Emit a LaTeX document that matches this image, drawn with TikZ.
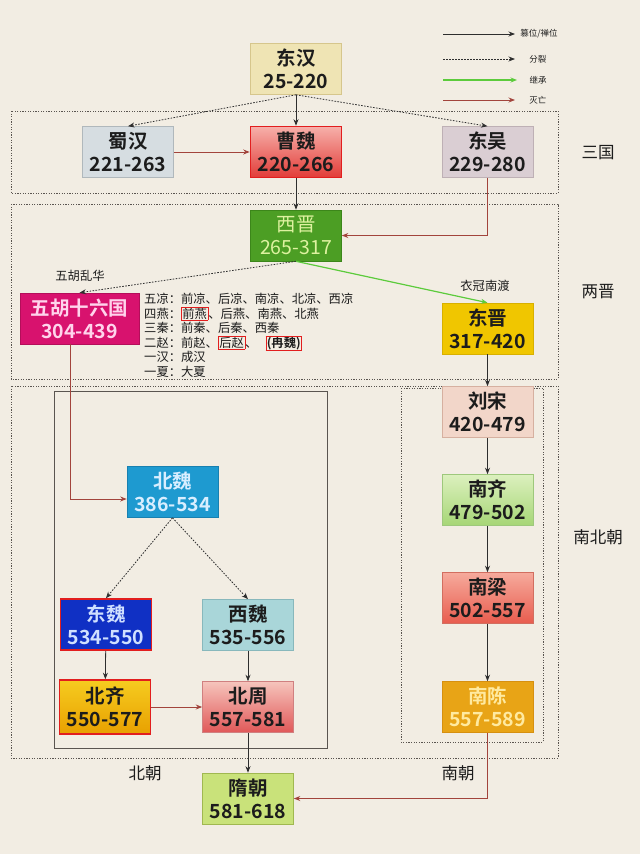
\documentclass[tikz,border=0pt]{standalone}
\usepackage{fontspec}
\setmainfont{Noto Sans CJK SC}[BoldFont={Noto Sans CJK SC Bold}]
\usetikzlibrary{arrows.meta,positioning}

\definecolor{paper}{HTML}{F2EDE3}
\definecolor{ink}{HTML}{1C1C1C}
\definecolor{frameGray}{HTML}{5A5550}
\definecolor{arrowDark}{HTML}{2E2E2E}
\definecolor{arrowGreen}{HTML}{5CCB3C}
\definecolor{arrowRed}{HTML}{A2443C}
\definecolor{boxRed}{HTML}{E21E1E}
% dynasty colours
\definecolor{donghanFill}{HTML}{EFE4B4}  \definecolor{donghanLine}{HTML}{D6C68C}
\definecolor{shuhanFill}{HTML}{D6DDE1}   \definecolor{shuhanLine}{HTML}{B0B8BC}
\definecolor{caoweiTop}{HTML}{F6B0AA}    \definecolor{caoweiBot}{HTML}{E23C38}
\definecolor{dongwuFill}{HTML}{DACED3}   \definecolor{dongwuLine}{HTML}{BEB0B5}
\definecolor{xijinFill}{HTML}{4C9E24}    \definecolor{xijinLine}{HTML}{3C861A}  \definecolor{xijinText}{HTML}{DEF2A0}
\definecolor{wuhuFill}{HTML}{D8126E}     \definecolor{wuhuLine}{HTML}{B40E5A}   \definecolor{wuhuText}{HTML}{FFD4EC}
\definecolor{dongjinFill}{HTML}{F0C600}  \definecolor{dongjinLine}{HTML}{D8B000}
\definecolor{liusongFill}{HTML}{F2D6C9}  \definecolor{liusongLine}{HTML}{D6B0A0}
\definecolor{nanqiTop}{HTML}{DCF0BE}     \definecolor{nanqiBot}{HTML}{A6D676}   \definecolor{nanqiLine}{HTML}{9EC87C}
\definecolor{nanliangTop}{HTML}{F6AA9C}  \definecolor{nanliangBot}{HTML}{E85C4E} \definecolor{nanliangLine}{HTML}{D26E60}
\definecolor{nanchenFill}{HTML}{E8A416}  \definecolor{nanchenLine}{HTML}{D69010} \definecolor{nanchenText}{HTML}{FFEAA0}
\definecolor{beiweiFill}{HTML}{1E9AD0}   \definecolor{beiweiLine}{HTML}{1880B0}  \definecolor{beiweiText}{HTML}{D8EEFF}
\definecolor{dongweiFill}{HTML}{1030C4}  \definecolor{dongweiText}{HTML}{D0E0FF}
\definecolor{xiweiFill}{HTML}{A9D6D9}    \definecolor{xiweiLine}{HTML}{88B8BC}
\definecolor{beiqiTop}{HTML}{F6CC20}     \definecolor{beiqiBot}{HTML}{E8A000}
\definecolor{beizhouTop}{HTML}{F6C4BC}   \definecolor{beizhouBot}{HTML}{E05858}  \definecolor{beizhouLine}{HTML}{D08080}
\definecolor{suiFill}{HTML}{C9E27A}      \definecolor{suiLine}{HTML}{A0B850}

\newcommand{\redbox}[1]{{\color{boxRed}\fboxsep=0.6pt\fboxrule=0.7pt\fbox{\color{ink}#1}}}

\begin{document}
\begin{tikzpicture}[x=1pt,y=-1pt,>=Stealth,inner sep=0pt,every node/.style={font=\small}]
      % Styles
      \tikzset{dynasty/.style={minimum width=91pt,minimum height=51pt,align=center,line width=0.6pt,
                 text=ink,font=\bfseries\fontsize{19.5}{23}\selectfont},
               redframe/.style={draw=boxRed,line width=1.6pt},
               usurp/.style={-{Stealth[length=6.5pt,width=5pt]},line width=0.8pt,draw=arrowDark},
               split/.style={usurp,dash pattern=on 1.6pt off 1.4pt},
               inherit/.style={usurp,line width=1.2pt,draw=arrowGreen},
               fall/.style={usurp,line width=0.9pt,draw=arrowRed},
               period/.style={dash pattern=on 1.2pt off 1.4pt,line width=0.8pt,draw=frameGray},
               era/.style={font=\fontsize{16.5}{20}\selectfont,text=ink},
               note/.style={font=\fontsize{12.3}{14.6}\selectfont,text=ink},
               legend/.style={font=\fontsize{8.5}{10}\selectfont,text=ink}}

      % Paper background and page size
      \useasboundingbox (0,0) rectangle (640,854);
      \fill[paper] (0,0) rectangle (640,854);

      % Period frames
      \draw[period] (11,111) rectangle (558,193);
      \draw[period] (11,204) rectangle (558,379);
      \draw[period] (11,386) rectangle (558,758);
      \draw[line width=0.8pt,draw=frameGray] (54,391) rectangle (327,748);
      \draw[period] (401,388) rectangle (543,742);

      % Legend
      \coordinate (usurpA) at (443,34);  \coordinate (usurpB) at (515,34);
      \coordinate (splitA) at (443,59);  \coordinate (splitB) at (515,59);
      \coordinate (inheritA) at (443,80); \coordinate (inheritB) at (517,80);
      \coordinate (fallA) at (443,100);  \coordinate (fallB) at (515,100);
      \draw[usurp] (usurpA) -- (usurpB) node[legend,right=5pt] (usurpText) {篡位/禅位};
      \draw[split] (splitA) -- (splitB) node[legend,right=14pt] (splitText) {分裂};
      \draw[inherit] (inheritA) -- (inheritB) node[legend,right=12pt] (inheritText) {继承};
      \draw[fall] (fallA) -- (fallB) node[legend,right=14pt] (fallText) {灭亡};

      % Dynasties (three kingdoms)
      \node[dynasty,fill=donghanFill,draw=donghanLine] (donghan) at (296,69) {东汉\\25-220};
      \node[dynasty,fill=shuhanFill,draw=shuhanLine] (shuhan) at (128,152) {蜀汉\\221-263};
      \node[dynasty,redframe,top color=caoweiTop,bottom color=caoweiBot] (caowei) at (296,152) {曹魏\\220-266};
      \node[dynasty,fill=dongwuFill,draw=dongwuLine] (dongwu) at (487.5,152) {东吴\\229-280};

      % Dynasties (two Jin)
      \node[dynasty,fill=xijinFill,draw=xijinLine,text=xijinText,font=\mdseries\fontsize{19.5}{23}\selectfont] (xijin) at (296,235.5) {西晋\\265-317};
      \node[dynasty,minimum width=119pt,fill=wuhuFill,draw=wuhuLine,text=wuhuText] (wuhu) at (79.5,318.5) {五胡十六国\\304-439};
      \node[dynasty,fill=dongjinFill,draw=dongjinLine] (dongjin) at (487.5,328.5) {东晋\\317-420};

      % Dynasties (south)
      \node[dynasty,fill=liusongFill,draw=liusongLine] (liusong) at (487.5,412) {刘宋\\420-479};
      \node[dynasty,top color=nanqiTop,bottom color=nanqiBot,draw=nanqiLine] (nanqi) at (487.5,500) {南齐\\479-502};
      \node[dynasty,top color=nanliangTop,bottom color=nanliangBot,draw=nanliangLine] (nanliang) at (487.5,598) {南梁\\502-557};
      \node[dynasty,fill=nanchenFill,draw=nanchenLine,text=nanchenText] (nanchen) at (487.5,707) {南陈\\557-589};

      % Dynasties (north)
      \node[dynasty,fill=beiweiFill,draw=beiweiLine,text=beiweiText] (beiwei) at (172.5,492) {北魏\\386-534};
      \node[dynasty,redframe,fill=dongweiFill,text=dongweiText] (dongwei) at (106,624.5) {东魏\\534-550};
      \node[dynasty,fill=xiweiFill,draw=xiweiLine] (xiwei) at (248,625) {西魏\\535-556};
      \node[dynasty,redframe,minimum height=54pt,top color=beiqiTop,bottom color=beiqiBot] (beiqi) at (105,707) {北齐\\550-577};
      \node[dynasty,top color=beizhouTop,bottom color=beizhouBot,draw=beizhouLine] (beizhou) at (248,707) {北周\\557-581};
      \node[dynasty,fill=suiFill,draw=suiLine] (suichao) at (248,798.5) {隋朝\\581-618};

      % Splits (dotted)
      \draw[split] (donghan.south) -- (shuhan.north);
      \draw[split] (donghan.south) -- (dongwu.north);
      \draw[split] (xijin.south) -- (wuhu.north);
      \draw[split] (beiwei.south) -- (dongwei.north);
      \draw[split] (beiwei.south) -- (xiwei.north);

      % Usurpation / abdication
      \draw[usurp] (donghan) -- (caowei);
      \draw[usurp] (caowei) -- (xijin);
      \draw[usurp] (dongjin) -- (liusong);
      \draw[usurp] (liusong) -- (nanqi);
      \draw[usurp] (nanqi) -- (nanliang);
      \draw[usurp] (nanliang) -- (nanchen);
      \draw[usurp] (dongwei) -- (beiqi);
      \draw[usurp] (xiwei) -- (beizhou);
      \draw[usurp] (beizhou) -- (suichao);

      % Succession
      \draw[inherit] (xijin.south) -- (dongjin.north);

      % Conquests
      \draw[fall] (shuhan) -- (caowei);
      \draw[fall] (dongwu.south) |- (xijin.east);
      \draw[fall] ([xshift=-9pt]wuhu.south) |- ([yshift=-7pt]beiwei.west);
      \draw[fall] (beiqi) -- (beizhou);
      \draw[fall] (nanchen.south) |- (suichao.east);

      % Notes on the arrows
      \node[note] (wuhuNote) at (80,276) {五胡乱华};
      \node[note] (yiguanNote) at (485,286) {衣冠南渡};

      % Sixteen kingdoms list
      \node[note,anchor=north west,align=left] (kingdoms) at (144,293) {五凉：前凉、后凉、南凉、北凉、西凉\\
        四燕：\redbox{前燕}、后燕、南燕、北燕\\
        三秦：前秦、后秦、西秦\\
        二赵：前赵、\redbox{后赵}、\hspace{8pt}\redbox{\textbf{(冉魏)}}\\
        一汉：成汉\\
        一夏：大夏};

      % Period labels
      \node[era] (sanguoLabel) at (598,153) {三国};
      \node[era] (liangjinLabel) at (598,292) {两晋};
      \node[era] (nanbeiLabel) at (598,537) {南北朝};
      \node[era] (beichaoLabel) at (145,773) {北朝};
      \node[era] (nanchaoLabel) at (458,773) {南朝};
\end{tikzpicture}
\end{document}
